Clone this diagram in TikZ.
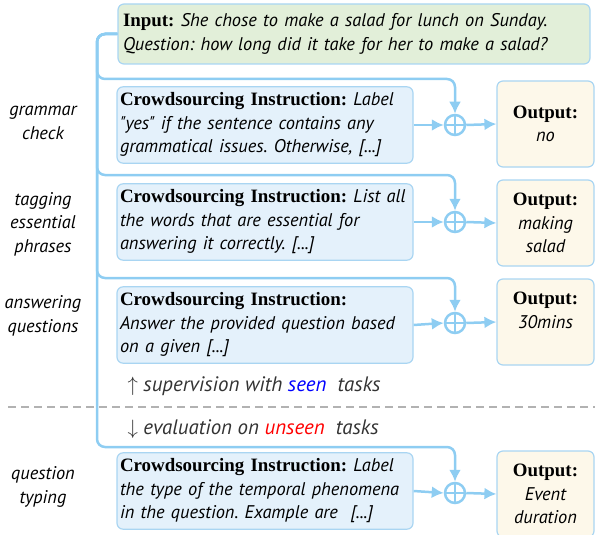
\documentclass[tikz,border=0pt]{standalone}
\usepackage{fontspec}
\setmainfont{Liberation Serif}[Scale=1.05]
\newfontfamily\itf{PT Sans}[Scale=1.02]
\usetikzlibrary{arrows.meta}
\definecolor{flowblue}{HTML}{8ECDF2}
\definecolor{edgeblue}{HTML}{A9D5F2}
\definecolor{insfill}{HTML}{E4F1FB}
\definecolor{inpfill}{HTML}{E2EFD9}
\definecolor{outfill}{HTML}{FDF8EA}
\definecolor{txtgray}{HTML}{333333}
\newcommand{\tx}[1]{{\itf\itshape #1}}
\frenchspacing
\begin{document}
\begin{tikzpicture}[x=1pt, y=-1pt, font=\fontsize{18}{23.5}\selectfont]
  \tikzstyle{box}=[draw=edgeblue, line width=1.2pt, rounded corners=6pt, inner xsep=3pt, inner ysep=6pt, align=left]
  \tikzstyle{instr}=[box, fill=insfill, minimum width=296pt, minimum height=74pt, text width=290pt]
  \tikzstyle{outbox}=[box, fill=outfill, minimum width=97pt, minimum height=86pt, text width=91pt, align=center]
  \tikzstyle{plus}=[circle, draw=flowblue, line width=2.5pt, minimum size=20pt, inner sep=0pt,
    path picture={\draw[flowblue, line width=2.5pt]
      (path picture bounding box.north) -- (path picture bounding box.south)
      (path picture bounding box.west) -- (path picture bounding box.east);}]
  \tikzstyle{flow}=[flowblue, line width=2.5pt, rounded corners=8pt, -{Latex[length=12pt,width=12pt]}]
  \tikzstyle{task}=[align=center, text=black]
  \tikzstyle{split}=[anchor=west, text=txtgray, font=\fontsize{20.5}{24}\selectfont]
  \useasboundingbox (0,0) rectangle (595,535);
  % separator between seen and unseen tasks
  \draw[gray!60, line width=1.8pt, dash pattern=on 8pt off 5pt] (8,407) -- (595,407);
  \node[box, fill=inpfill, minimum width=472pt, minimum height=60pt, text width=462pt] (inp) at (354,34)
    {\textbf{Input:} \tx{She chose to make a salad for lunch on Sunday.}\\
     \tx{Question: how long did it take for her to make a salad?}};
  \node[instr] (ins1) at (265,125) {\textbf{Crowdsourcing Instruction:} \tx{Label}\\
     \tx{"yes" if the sentence contains any}\\ \tx{grammatical issues. Otherwise, [...]}};
  \node[instr] (ins2) at (265,222) {\textbf{Crowdsourcing Instruction:} \tx{List all}\\
     \tx{the words that are essential for}\\ \tx{answering it correctly. [...]}};
  \node[instr] (ins3) at (265,325) {\textbf{Crowdsourcing Instruction:}\\
     \tx{Answer the provided question based}\\ \tx{on a given [...]}};
  \node[instr] (ins4) at (265,491) {\textbf{Crowdsourcing Instruction:} \tx{Label}\\
     \tx{the type of the temporal phenomena}\\ \tx{in the question. Example are~ [...]}};
  \foreach \i/\y in {1/125, 2/222, 3/323, 4/493}
    \node[plus] (c\i) at (455,\y) {};
  \node[outbox] (out1) at (545.5,124) {\textbf{Output:}\\ \tx{no}};
  \node[outbox] (out2) at (545.5,223) {\textbf{Output:}\\ \tx{making}\\ \tx{salad}};
  \node[outbox] (out3) at (545.5,322) {\textbf{Output:}\\ \tx{30mins}\\ ~};
  \node[outbox] (out4) at (545.5,494) {\textbf{Output:}\\ \tx{Event}\\ \tx{duration}};
  \node[task] (t1) at (43,123) {\tx{grammar}\\ \tx{check}};
  \node[task] (t2) at (43,224) {\tx{tagging}\\ \tx{essential}\\ \tx{phrases}};
  \node[task] (t3) at (43,316) {\tx{answering}\\ \tx{questions}};
  \node[task] (t4) at (43,487) {\tx{question}\\ \tx{typing}};
  \node[split] (seen) at (124,386)
    {$\uparrow$ \tx{supervision with \textcolor{blue}{seen}~ tasks}};
  \node[split] (unseen) at (124,429)
    {$\downarrow$ \tx{evaluation on \textcolor{red}{unseen}~ tasks}};
  \foreach \i/\y in {1/79, 2/175, 3/278, 4/447}
    \coordinate (b\i) at (97,\y);
  \foreach \i in {1,...,4} {
    \draw[flow] (inp.west) -| (b\i) -| (c\i.north);
    \draw[flow] (ins\i.east) -- (c\i.west);
    \draw[flow] (c\i.east) -- (out\i.west);
  }
\end{tikzpicture}
\end{document}
